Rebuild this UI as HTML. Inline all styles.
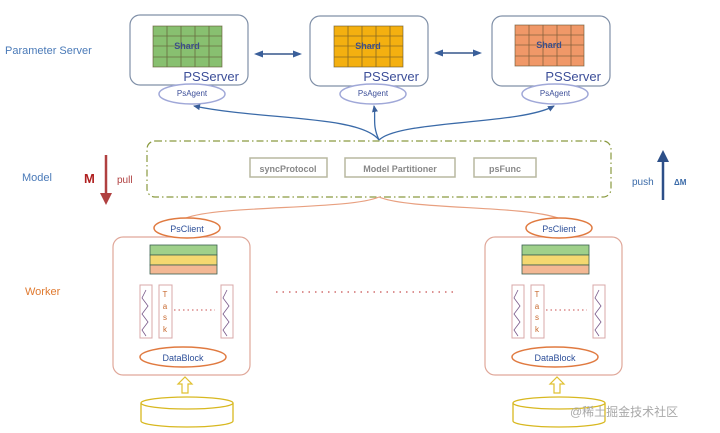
<!DOCTYPE html>
<html><head><meta charset="utf-8"><style>
html,body{margin:0;padding:0;background:#fff;}
svg{display:block;font-family:"Comic Sans MS","Liberation Sans",sans-serif;}
</style></head><body>
<svg width="720" height="433" viewBox="0 0 720 433" xmlns="http://www.w3.org/2000/svg">
<defs>
<marker id="ab" markerUnits="userSpaceOnUse" markerWidth="10" markerHeight="10" refX="5" refY="5" orient="auto-start-reverse"><path d="M0,1.5 L9,5 L0,8.5 Z" fill="#3a5f9a"/></marker>
<marker id="as" markerUnits="userSpaceOnUse" markerWidth="8" markerHeight="8" refX="6" refY="4" orient="auto"><path d="M0,1 L7,4 L0,7 Z" fill="#3a5f9a"/></marker>
<g id="grid"><rect x="0" y="0" width="69" height="41" fill="currentColor"/>
<g stroke="#5a4a2a" stroke-width="0.8" fill="none" opacity="0.7">
<rect x="0" y="0" width="69" height="41"/>
<line x1="14" y1="0" x2="14" y2="41"/><line x1="28" y1="0" x2="28" y2="41"/><line x1="42" y1="0" x2="42" y2="41"/><line x1="56" y1="0" x2="56" y2="41"/>
<line x1="0" y1="10" x2="69" y2="10"/><line x1="0" y1="20" x2="69" y2="20"/><line x1="0" y1="31" x2="69" y2="31"/></g>
<text x="34" y="23" font-size="9" font-weight="bold" fill="#3d4f8a" text-anchor="middle">Shard</text></g>
<g id="worker">
<rect x="113" y="237" width="137" height="138" rx="10" fill="#fff" stroke="#e0a89a" stroke-width="1.2"/>
<ellipse cx="187" cy="228" rx="33" ry="10" fill="#fff" stroke="#e07a40" stroke-width="1.5"/>
<text x="187" y="232" font-size="9" fill="#2d4f99" text-anchor="middle">PsClient</text>
<rect x="150" y="245" width="67" height="10" fill="#9fd08a" stroke="#3a6050" stroke-width="0.8"/>
<rect x="150" y="255" width="67" height="10" fill="#f4d870" stroke="#3a6050" stroke-width="0.8"/>
<rect x="150" y="265" width="67" height="9" fill="#f3b894" stroke="#3a6050" stroke-width="0.8"/>
<rect x="140" y="285" width="12" height="53" fill="#fff" stroke="#d8a8a8"/>
<path d="M146,290 l-4,8 l6,8 l-6,8 l6,8 l-6,8 l4,6" fill="none" stroke="#7a5a8a" stroke-width="0.8"/>
<rect x="159" y="285" width="13" height="53" fill="#fff" stroke="#d8a8a8"/>
<g font-size="8" fill="#c86a30" text-anchor="middle"><text x="165" y="297">T</text><text x="165" y="309">a</text><text x="165" y="320">s</text><text x="165" y="332">k</text></g>
<line x1="174" y1="310" x2="215" y2="310" stroke="#c85050" stroke-dasharray="1.5,3"/>
<rect x="221" y="285" width="12" height="53" fill="#fff" stroke="#d8a8a8"/>
<path d="M227,290 l-4,8 l6,8 l-6,8 l6,8 l-6,8 l4,6" fill="none" stroke="#7a5a8a" stroke-width="0.8"/>
<ellipse cx="183" cy="357" rx="43" ry="10" fill="#fff" stroke="#e07a40" stroke-width="1.5"/>
<text x="183" y="361" font-size="9" fill="#2d4f99" text-anchor="middle">DataBlock</text>
<path d="M182,393 v-9 h-4 l7,-7 l7,7 h-4 v9 z" fill="#fff" stroke="#e0c030" stroke-width="1.2"/>
<path d="M141,403 v18 a46,6 0 0 0 92,0 v-18" fill="#fff" stroke="#d8b820" stroke-width="1.3"/>
<ellipse cx="187" cy="403" rx="46" ry="6" fill="#fff" stroke="#d8b820" stroke-width="1.3"/>
</g>
</defs>
<text x="5" y="54" font-size="11" fill="#4a7ab8">Parameter Server</text>
<text x="22" y="181" font-size="11" fill="#4a7ab8">Model</text>
<text x="25" y="295" font-size="11" fill="#e07a30">Worker</text>

<g>
<rect x="130" y="15" width="118" height="70" rx="10" fill="#fff" stroke="#8090a8" stroke-width="1.2"/>
<use href="#grid" x="153" y="26" color="#88c070"/>
<text x="239" y="81" font-size="13" fill="#3d4f99" text-anchor="end">PSServer</text>
<ellipse cx="192" cy="94" rx="33" ry="10" fill="#fff" stroke="#a0a8d8" stroke-width="1.5"/>
<text x="192" y="96" font-size="8" fill="#3d4f99" text-anchor="middle">PsAgent</text>
</g>
<g>
<rect x="310" y="16" width="118" height="70" rx="10" fill="#fff" stroke="#8090a8" stroke-width="1.2"/>
<use href="#grid" x="334" y="26" color="#f4b010"/>
<text x="419" y="81" font-size="13" fill="#3d4f99" text-anchor="end">PSServer</text>
<ellipse cx="373" cy="94" rx="33" ry="10" fill="#fff" stroke="#a0a8d8" stroke-width="1.5"/>
<text x="373" y="96" font-size="8" fill="#3d4f99" text-anchor="middle">PsAgent</text>
</g>
<g>
<rect x="492" y="16" width="118" height="70" rx="10" fill="#fff" stroke="#8090a8" stroke-width="1.2"/>
<use href="#grid" x="515" y="25" color="#f09868"/>
<text x="601" y="81" font-size="13" fill="#3d4f99" text-anchor="end">PSServer</text>
<ellipse cx="555" cy="94" rx="33" ry="10" fill="#fff" stroke="#a0a8d8" stroke-width="1.5"/>
<text x="555" y="96" font-size="8" fill="#3d4f99" text-anchor="middle">PsAgent</text>
</g>
<line x1="258" y1="54" x2="298" y2="54" stroke="#6880a8" stroke-width="2" marker-end="url(#ab)" marker-start="url(#ab)"/>
<line x1="438" y1="53" x2="478" y2="53" stroke="#6880a8" stroke-width="2" marker-end="url(#ab)" marker-start="url(#ab)"/>

<g fill="none" stroke="#3a6aa8" stroke-width="1.3">
<path d="M379,140 C360,115 260,120 194,106" marker-end="url(#as)"/>
<path d="M379,140 C372,125 376,118 374,106" marker-end="url(#as)"/>
<path d="M379,140 C400,120 520,125 554,106" marker-end="url(#as)"/>
</g>

<rect x="147" y="141" width="464" height="56" rx="8" fill="none" stroke="#8a9a40" stroke-width="1.2" stroke-dasharray="7,3,1.5,3"/>
<rect x="250" y="158" width="77" height="19" fill="#fff" stroke="#b8b8a0" stroke-width="1.5"/>
<text x="288" y="172" font-size="9" font-weight="bold" fill="#888" text-anchor="middle">syncProtocol</text>
<rect x="345" y="158" width="110" height="19" fill="#fff" stroke="#b8b8a0" stroke-width="1.5"/>
<text x="400" y="172" font-size="9" font-weight="bold" fill="#888" text-anchor="middle">Model Partitioner</text>
<rect x="474" y="158" width="62" height="19" fill="#fff" stroke="#b8b8a0" stroke-width="1.5"/>
<text x="505" y="172" font-size="9" font-weight="bold" fill="#888" text-anchor="middle">psFunc</text>

<text x="84" y="183" font-size="13" font-weight="bold" fill="#b02020">M</text>
<line x1="106" y1="155" x2="106" y2="195" stroke="#b04040" stroke-width="2.5"/>
<path d="M100,193 L112,193 L106,205 Z" fill="#b04040"/>
<text x="117" y="183" font-size="10" fill="#b04040">pull</text>
<text x="632" y="185" font-size="10" fill="#3a6aa8">push</text>
<line x1="663" y1="160" x2="663" y2="200" stroke="#2d4f88" stroke-width="2.5"/>
<path d="M657,162 L669,162 L663,150 Z" fill="#2d4f88"/>
<text x="674" y="185" font-size="8" font-weight="bold" fill="#3a6aa8">ΔM</text>

<g fill="none" stroke="#e8a080" stroke-width="1.2">
<path d="M379,197 C350,210 220,205 186,218"/>
<path d="M379,197 C410,210 520,205 558,218"/>
</g>

<use href="#worker"/>
<use href="#worker" x="372"/>
<line x1="276" y1="292" x2="456" y2="292" stroke="#c85050" stroke-width="1.3" stroke-dasharray="1.5,5"/>
<text x="570" y="416" font-size="12" fill="#a8a8a8" font-family="'Liberation Sans','Noto Sans CJK SC',sans-serif">@稀土掘金技术社区</text>
</svg>
</body></html>
